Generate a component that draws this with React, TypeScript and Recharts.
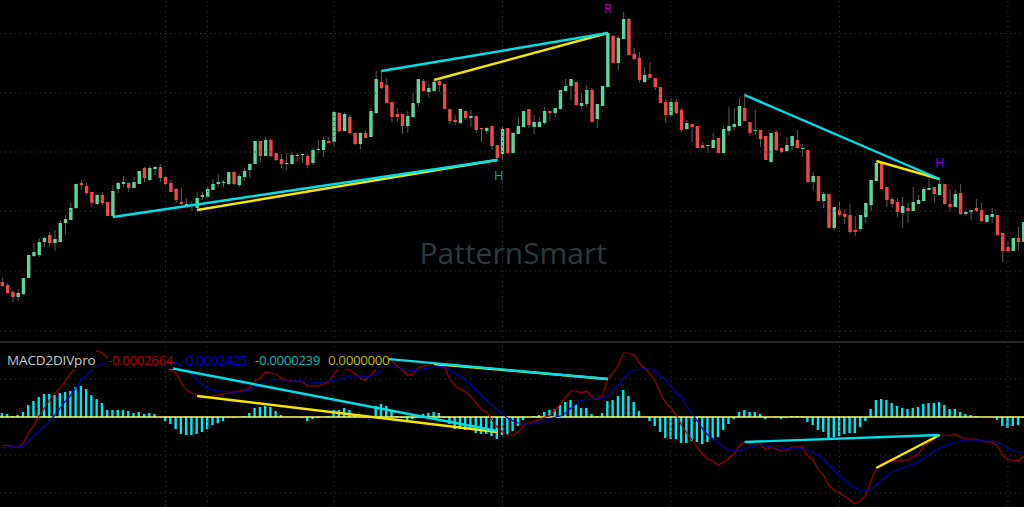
import React from "react";
import { ComposedChart, Bar, Line, XAxis, YAxis, ReferenceLine } from "recharts";

// Price series, in chart ticks above the bottom of the price pane
const highs = [
  64,59,52,53,64,87,99,104,105,110, 112,122,127,139,158,162,159,150,148,150,
  140,157,160,166,160,165,171,175,176,176, 178,166,162,154,154,144,140,150,150,156,
  163,168,162,170,171,168,174,179,201,201, 205,203,189,188,189,190,189,189,188,194,
  202,205,205,231,230,229,227,210,210,212, 234,271,271,264,240,234,228,231,249,263,
  263,258,262,262,258,233,227,233,231,232, 226,214,215,216,197,215,214,210,225,231,
  233,227,225,235,231,234,252,263,263,260, 249,257,254,238,256,309,307,306,330,324,
  294,290,275,280,264,255,243,244,243,234, 222,218,216,200,197,209,204,216,235,234,
  244,249,220,232,212,206,209,212,194,205, 206,212,198,192,170,166,150,148,135,140,
  133,138,126,127,139,162,181,179,155,145, 144,145,139,155,147,155,163,155,163,158,
  153,152,158,132,132,143,139,127,134,127, 109,100,104,115,120,
];
const opens = [
  60,57,50,45,48,64,86,87,100,107, 99,100,119,122,134,159,156,150,138,147,
  140,126,153,158,159,154,158,174,162,173, 175,165,159,153,140,137,137,134,145,145,
  152,158,159,158,170,157,165,172,178,201, 186,202,189,183,178,178,186,187,186,179,
  192,192,201,200,229,211,225,209,198,209, 205,229,260,257,240,228,228,216,225,239,
  261,250,251,261,258,233,222,219,231,224, 226,214,211,216,197,188,214,189,208,215,
  233,215,215,219,231,229,233,251,256,260, 236,238,252,223,236,255,306,279,303,323,
  288,284,260,268,264,255,240,227,240,232, 213,218,216,197,196,194,204,189,211,215,
  216,234,220,211,212,206,180,210,194,191, 196,202,193,192,160,166,141,148,114,132,
  128,127,112,113,125,137,161,179,155,143, 140,129,134,131,138,141,152,155,147,158,
  138,135,149,128,130,134,132,120,125,127, 109,95,91,104,100,
];
const closes = [
  56,49,45,49,64,87,90,100,104,99, 103,119,123,134,158,157,149,139,147,139,
  126,151,159,160,154,160,171,164,174,175, 164,158,150,142,138,138,138,144,147,153,
  158,160,160,170,158,166,171,178,201,186, 202,186,182,178,179,187,187,188,177,192,
  193,202,199,230,211,228,209,198,209,204, 231,263,254,239,225,225,216,226,239,263,
  251,254,260,257,233,221,220,233,224,226, 212,213,214,196,184,213,189,209,216,231,
  217,220,220,231,229,234,252,256,263,237, 239,252,220,238,256,309,279,304,323,287,
  283,262,267,264,255,239,227,240,229,212, 219,215,194,194,197,202,189,213,216,218,
  236,221,209,212,203,182,209,192,190,197, 206,194,194,160,166,141,148,114,135,127,
  125,110,110,127,139,162,179,153,142,138, 130,136,131,140,142,153,154,148,158,138,
  135,148,128,130,132,131,121,127,128,107, 91,91,104,100,120,
];
const lows = [
  55,49,40,41,47,64,85,85,95,95, 91,100,107,122,133,152,147,135,137,137,
  126,125,149,155,150,154,158,160,161,167, 160,157,150,139,137,135,131,131,142,144,
  152,155,155,157,157,155,161,164,178,180, 186,185,181,174,172,177,180,179,174,177,
  189,185,199,195,210,211,208,197,193,204, 205,228,253,239,220,220,208,209,224,235,
  251,244,251,250,233,218,217,218,222,215, 209,200,208,192,182,182,189,189,208,215,
  214,208,215,217,221,225,233,251,242,236, 233,235,220,214,236,255,279,272,303,287,
  282,259,259,264,252,239,219,225,228,210, 212,200,194,194,189,194,189,189,206,212,
  216,221,206,207,195,182,180,191,189,190, 192,194,185,159,152,141,134,114,111,126,
  118,108,106,111,119,131,161,153,135,135, 125,114,119,131,138,141,152,139,147,137,
  130,135,127,126,122,130,120,119,119,107, 80,89,91,92,100,
];

// MACD pane, in ticks around the zero line
const histogram = [
  4,3,1,2,5,12,16,20,23,23, 22,24,25,26,30,31,28,22,18,14,
  7,7,7,7,6,4,5,3,4,3, 0,-4,-7,-12,-17,-18,-18,-17,-15,-12,
  -8,-6,-4,-1,-1,0,1,4,9,10, 11,10,6,2,0,0,0,-1,-4,-2,
  -1,0,1,7,7,9,7,1,0,-1, 1,11,13,11,6,1,-1,-5,-2,2,
  3,4,5,4,-1,-7,-12,-12,-13,-13, -16,-17,-17,-19,-22,-18,-18,-14,-9,-3,
  0,1,2,5,7,8,12,15,17,13, 9,9,3,1,4,16,17,21,27,21,
  15,6,0,-4,-9,-15,-21,-22,-22,-26, -26,-24,-25,-27,-25,-22,-20,-13,-7,-2,
  5,7,5,5,3,-2,0,-1,-2,-1, 1,1,1,-5,-8,-13,-15,-22,-20,-19,
  -17,-16,-16,-10,-4,8,17,18,17,14, 11,9,8,9,10,13,14,14,15,12,
  8,8,5,3,2,1,0,0,0,-3, -9,-11,-9,-8,-1,
];
const macdRed = [
  -29,-28,-30,-30,-26,-16,-8,1,9,17, 24,29,36,44,49,54,59,64,66,64,
  59,56,56,57,58,59,60,60,58,57, 55,52,47,44,34,27,24,22,21,20,
  21,22,23,24,25,26,27,29,36,39, 45,44,43,39,37,36,36,35,31,31,
  31,33,35,43,49,48,47,43,39,37, 42,48,54,57,56,51,47,42,43,49,
  51,52,53,53,49,38,31,28,25,21, 14,8,5,-3,-10,-15,-18,-18,-15,-9,
  -6,-4,-3,0,1,7,13,20,26,26, 24,26,20,18,22,38,44,52,64,64,
  62,54,49,44,36,24,14,9,2,-8, -16,-23,-31,-37,-42,-44,-48,-45,-41,-37,
  -29,-25,-26,-27,-27,-33,-30,-32,-34,-34, -30,-30,-30,-39,-43,-53,-58,-69,-73,-76,
  -79,-83,-87,-84,-78,-64,-51,-47,-44,-43, -44,-43,-43,-40,-37,-29,-26,-22,-18,-18,
  -19,-17,-20,-22,-22,-22,-24,-25,-25,-29, -38,-43,-43,-44,-39,
];
const macdBlue = [
  -31,-30,-30,-30,-29,-24,-19,-14,-9,-4, 2,9,16,22,29,37,42,47,51,53,
  54,55,56,56,57,57,58,58,58,58, 58,57,56,54,52,48,44,37,32,29,
  27,26,26,25,25,25,26,27,30,32, 35,36,38,37,37,37,37,36,35,35,
  34,35,36,37,37,39,41,41,41,40, 41,43,47,49,50,50,48,47,46,47,
  48,49,50,51,50,47,44,41,37,32, 27,22,17,12,7,3,-1,-4,-6,-7,
  -7,-6,-5,-4,-2,0,1,4,9,13, 17,17,18,18,18,21,26,32,39,44,
  47,48,48,48,46,41,37,31,24,20, 11,4,-4,-12,-18,-22,-26,-30,-33,-34,
  -34,-32,-30,-29,-28,-29,-30,-31,-31,-32, -31,-31,-32,-33,-36,-38,-42,-48,-53,-59,
  -63,-68,-71,-73,-74,-72,-68,-63,-59,-55, -53,-51,-49,-47,-45,-41,-38,-34,-31,-29,
  -27,-25,-24,-23,-23,-23,-24,-24,-24,-25, -28,-31,-34,-35,-35,
];

const priceGrid = [308.5, 249, 190, 131, 71, 11];
const macdGrid = [38, -38, -76];
const timeGrid = [31, 39, 63, 95, 127, 159, 191];

// Divergence lines: [bar, value] pairs
const priceCyan = [
  [[21, 125], [94, 182]],
  [[72, 271], [115, 309]],
  [[141, 247], [178, 163]],
];
const priceYellow = [
  [[37, 132], [94, 182]],
  [[82, 262], [115, 309]],
  [[166, 181], [178, 163]],
];
const macdCyan = [
  [[21, 60], [94, -14]],
  [[72, 58.6], [115, 38]],
  [[141, -25], [178, -18]],
];
const macdYellow = [
  [[37, 21], [94, -15]],
  [[82, 53], [115, 38]],
  [[166, -51], [178, -18]],
];

const indicatorLabels = [
  { text: "MACD2DIVpro", left: 7, color: "#c8c8c8", spacing: -0.15 },
  { text: "-0.0002664", left: 108, color: "#b30000", spacing: -0.45 },
  { text: "-0.0002425", left: 182, color: "#0000c8", spacing: -0.45 },
  { text: "-0.0000239", left: 255, color: "#00b8b8", spacing: -0.45 },
  { text: "0.0000000", left: 328, color: "#b8b800", spacing: -0.45 },
];

const priceData = highs.map((high, i) => ({
  idx: i,
  high,
  low: lows[i],
  open: opens[i],
  close: closes[i],
}));
const macdData = histogram.map((hist, i) => ({
  idx: i,
  hist,
  red: macdRed[i],
  blue: macdBlue[i],
}));

const W = 1024;
const XDOMAIN: [number, number] = [-0.437, 194.05];
const GRID = "#3a3a3a";
const CYAN = "#00dfe8";
const YELLOW = "#f2e400";

function Candle(props: any) {
  const { x, y, width, height, payload } = props;
  const { high, low, open, close } = payload;
  const k = height / Math.max(high - low, 1);
  const up = close >= open;
  const top = y + (high - Math.max(open, close)) * k;
  const bh = Math.max(Math.abs(close - open) * k, 1);
  const cx = x + width / 2;
  return (
    <g>
      <line x1={cx} x2={cx} y1={y} y2={y + height} stroke="#5a5a5a" strokeWidth={1} />
      <rect x={x} y={top} width={width} height={bh} fill={up ? "#5fd49b" : "#f04848"} />
    </g>
  );
}

function segments(list: number[][][], color: string, yAxisId: string, key: string) {
  return list.map((s, i) => (
    <ReferenceLine
      key={key + i}
      yAxisId={yAxisId}
      segment={[
        { x: s[0][0], y: s[0][1] },
        { x: s[1][0], y: s[1][1] },
      ]}
      stroke={color}
      strokeWidth={2.4}
    />
  ));
}

const overlayFont = "'Open Sans', 'Noto Sans', sans-serif";

export default function App() {
  return (
    <div
      style={{
        position: "absolute",
        left: 0,
        top: 0,
        width: W,
        height: 507,
        background: "#000",
        overflow: "hidden",
        fontFamily: overlayFont,
      }}
    >
      <div style={{ position: "absolute", left: 0, top: 0 }}>
        <ComposedChart
          width={W}
          height={342}
          data={priceData}
          margin={{ top: 0, right: 0, bottom: 0, left: 0 }}
        >
          <XAxis dataKey="idx" type="number" domain={XDOMAIN} allowDataOverflow hide />
          <YAxis yAxisId="p" domain={[0, 342]} allowDataOverflow hide />
          {priceGrid.map((v) => (
            <ReferenceLine key={"pg" + v} yAxisId="p" y={v} stroke={GRID} strokeDasharray="1 4" />
          ))}
          {timeGrid.map((v) => (
            <ReferenceLine key={"tg" + v} yAxisId="p" x={v} stroke={GRID} strokeDasharray="1 4" />
          ))}
          <Bar
            yAxisId="p"
            dataKey={(d: any) => [d.low, d.high]}
            barSize={3.4}
            shape={<Candle />}
            isAnimationActive={false}
          />
          {segments(priceYellow, YELLOW, "p", "py")}
          {segments(priceCyan, CYAN, "p", "pc")}
        </ComposedChart>
      </div>

      <div style={{ position: "absolute", left: 0, top: 341, width: W, height: 2, background: "#262626" }} />

      <div style={{ position: "absolute", left: 0, top: 342 }}>
        <ComposedChart
          width={W}
          height={165}
          data={macdData}
          margin={{ top: 0, right: 0, bottom: 0, left: 0 }}
        >
          <XAxis dataKey="idx" type="number" domain={XDOMAIN} allowDataOverflow hide />
          <YAxis yAxisId="m" domain={[-90, 75]} allowDataOverflow hide />
          {macdGrid.map((v) => (
            <ReferenceLine key={"mg" + v} yAxisId="m" y={v} stroke={GRID} strokeDasharray="1 4" />
          ))}
          {timeGrid.map((v) => (
            <ReferenceLine key={"mt" + v} yAxisId="m" x={v} stroke={GRID} strokeDasharray="1 4" />
          ))}
          <Bar yAxisId="m" dataKey="hist" barSize={2.4} fill="#00e6ee" isAnimationActive={false} />
          <ReferenceLine yAxisId="m" y={0} stroke="#ffff66" strokeWidth={1.5} />
          <Line yAxisId="m" dataKey="red" stroke="#a00000" strokeWidth={1.2} dot={false} isAnimationActive={false} />
          <Line yAxisId="m" dataKey="blue" stroke="#0000b8" strokeWidth={1.2} dot={false} isAnimationActive={false} />
          {segments(macdYellow, YELLOW, "m", "my")}
          {segments(macdCyan, CYAN, "m", "mc")}
        </ComposedChart>
      </div>

      {indicatorLabels.map((l) => (
        <span
          key={l.text}
          style={{
            position: "absolute",
            left: l.left,
            top: 351,
            height: 18,
            lineHeight: "18px",
            fontSize: 13.5,
            letterSpacing: l.spacing,
            background: "#000",
            color: l.color,
            whiteSpace: "nowrap",
          }}
        >
          {l.text}
        </span>
      ))}

      <span style={{ position: "absolute", left: 419.5, top: 233, fontSize: 30, lineHeight: "40px", color: "#2b3a3e", whiteSpace: "nowrap" }}>
        PatternSmart
      </span>
      <span style={{ position: "absolute", left: 604, top: 0, fontSize: 13, lineHeight: "16px", color: "#b000b0" }}>R</span>
      <span style={{ position: "absolute", left: 494, top: 167, fontSize: 13, lineHeight: "16px", color: "#00a3b3" }}>H</span>
      <span style={{ position: "absolute", left: 935, top: 154, fontSize: 13, lineHeight: "16px", color: "#8a00d8" }}>H</span>
    </div>
  );
}
